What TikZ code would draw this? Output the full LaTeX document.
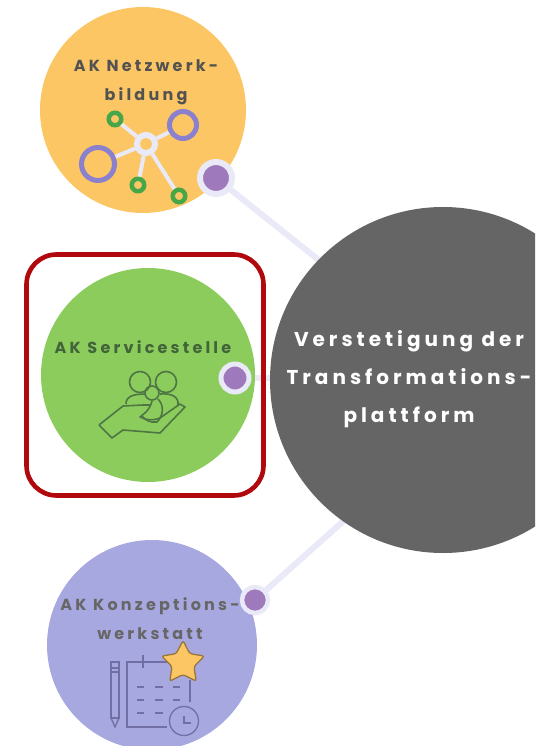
\documentclass[tikz,border=0pt]{standalone}
\usepackage{fontspec}
\usepackage{xcolor}
\usetikzlibrary{shapes.geometric}
\setmainfont{Poppins}[LetterSpace=20]
\definecolor{orangefill}{RGB}{251,198,99}
\definecolor{greenfill}{RGB}{140,204,92}
\definecolor{lilacfill}{RGB}{168,168,224}
\definecolor{darkfill}{RGB}{101,101,101}
\definecolor{dotfill}{RGB}{158,122,188}
\definecolor{haze}{RGB}{233,233,247}
\definecolor{frame}{RGB}{176,8,12}
\definecolor{ringgreen}{RGB}{70,166,72}
\definecolor{ringlilac}{RGB}{138,128,205}
\definecolor{leaf}{RGB}{78,118,68}
\definecolor{slate}{RGB}{112,110,162}

\begin{document}
\begin{tikzpicture}[
    x=1pt, y=-1pt,
    bubble/.style={circle, inner sep=0pt, minimum size=#1},
    dot/.style={circle, draw=haze, fill=dotfill, inner sep=0pt, minimum size=#1},
    link/.style={draw=haze, line width=6pt},
    title/.style={font=\bfseries\fontsize{16}{29}\selectfont, align=center, text=#1},
    ring/.style={circle, draw=ringgreen, line width=4.5pt, inner sep=0pt, minimum size=12.5pt},
    bigring/.style={circle, draw=ringlilac, line width=5pt, inner sep=0pt, minimum size=#1},
    spoke/.style={draw=haze, line width=4pt},
    careline/.style={draw=leaf, line width=1.6pt, line join=round},
    noteline/.style={draw=slate, line width=1.3pt}
]
\useasboundingbox (0,0) rectangle (535,746);
\clip (0,0) rectangle (535,746);

\coordinate (hookA) at (216,178);
\coordinate (hookB) at (235,378);
\coordinate (hookC) at (255,600);
\coordinate (platformTop) at (325,265);
\coordinate (platformLeft) at (280,378);
\coordinate (platformBottom) at (348,517);

\draw[link] (hookA) -- (platformTop);
\draw[link] (hookB) -- (platformLeft);
\draw[link] (hookC) -- (platformBottom);

\node[bubble=346pt, fill=darkfill] (platform) at (443,380) {};
\node[bubble=206pt, fill=orangefill] (netz) at (143,110) {};
\node[bubble=214pt, fill=greenfill] (service) at (148,375) {};
\node[bubble=210pt, fill=lilacfill] (konzept) at (152,645) {};

\node[dot=32pt, line width=6pt] (dotA) at (hookA) {};
\node[dot=28pt, line width=5pt] (dotB) at (hookB) {};
\node[dot=26pt, line width=4.5pt] (dotC) at (hookC) {};

\node[draw=frame, line width=4.6pt, rounded corners=30pt, minimum width=237pt, minimum height=241pt, inner sep=0pt] (highlight) at (145,375) {};

\node[title=white, font=\bfseries\fontsize{20}{38}\selectfont] (platformText) at (409,379) {Verstetigung der\\Transformations-\\plattform};
\node[title=black!68] (netzText) at (146,82.5) {AK Netzwerk-\\bildung};
\node[title=leaf!85!black] (serviceText) at (143,347) {AK Servicestelle};
\node[title=black!60] (konzeptText) at (150,618.5) {AK Konzeptions-\\werkstatt};

% network icon
\node[circle, draw=haze, line width=6pt, inner sep=0pt, minimum size=18pt] (hub) at (146,144) {};
\node[ring] (ringA) at (115,119) {};
\node[ring] (ringB) at (138,185) {};
\node[ring] (ringC) at (179,196) {};
\node[bigring=27pt] (ringD) at (183,125) {};
\node[bigring=33pt] (ringE) at (98,164) {};
\draw[spoke] (hub) -- (ringA);
\draw[spoke] (hub) -- (ringB);
\draw[spoke] (hub) -- (ringC);
\draw[spoke] (hub) -- (ringD);
\draw[spoke] (hub) -- (ringE);

% care icon
\draw[careline] (140,382) circle (10.5);
\draw[careline] (166,382) circle (10.5);
\draw[careline] (152,393) circle (7);
\draw[careline] (126,404) .. controls (126,397) and (132,394) .. (145,394);
\draw[careline] (160,394) .. controls (172,393) and (179,397) .. (178,405);
\draw[careline] (99,425) -- (123,406) -- (143,405) -- (150,405);
\draw[careline] (99,425) -- (112,438) -- (123,430) -- (160,433) -- (185,407) -- (180,404) -- (160,418) .. controls (152,421) and (146,420) .. (140,417) -- (146,412) .. controls (149,409) and (151,405) .. (152,401);
\draw[careline] (158,399) .. controls (164,405) and (164,415) .. (157,422) .. controls (150,423) and (145,420) .. (142,416);

% notes icon
\draw[noteline] (111,662) rectangle (119,718);
\draw[noteline] (111,668) -- (119,668) (111,672) -- (119,672);
\draw[noteline] (111,718) -- (115,727) -- (119,718);
\draw[noteline] (167,727) -- (127,727) -- (127,662) -- (178,662);
\draw[noteline] (190,680) -- (190,702);
\draw[noteline] (143,655) -- (143,668);
\draw[noteline] (137,687) -- (144,687) (155,687) -- (163,687) (173,687) -- (180,687);
\draw[noteline] (137,700) -- (144,700) (155,700) -- (163,700) (173,700) -- (180,700);
\draw[noteline] (137,713) -- (144,713) (155,713) -- (163,713);
\node[circle, draw=slate, line width=1.3pt, inner sep=0pt, minimum size=29pt] (clock) at (184,721) {};
\draw[noteline] (184,716) -- (184,723) -- (191,723);
\node[star, star points=5, star point ratio=1.95, fill=orangefill, draw=black!40!orangefill, line width=1.3pt, rounded corners=2.5pt, inner sep=0pt, minimum size=45pt] (badge) at (183,663) {};
\end{tikzpicture}
\end{document}
